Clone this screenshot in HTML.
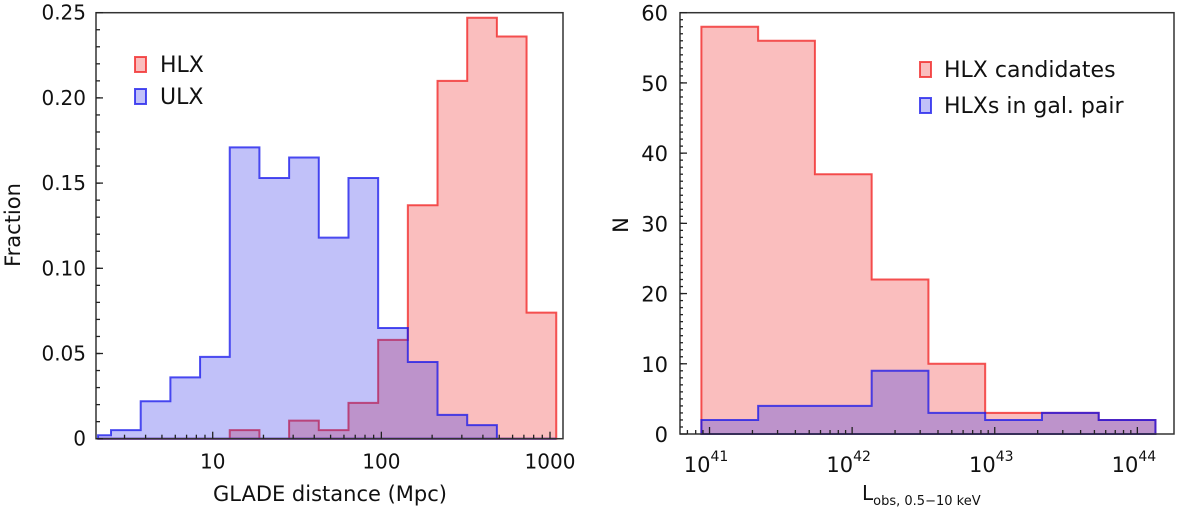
<!DOCTYPE html>
<html><head><meta charset="utf-8"><style>
body{margin:0;background:#fff;}
svg text{font-family:"DejaVu Sans","Liberation Sans",sans-serif;fill:#111;}
</style></head><body>
<svg id="fig" width="1200" height="512" viewBox="0 0 1200 512" xmlns="http://www.w3.org/2000/svg"></svg>
<script>
// Left panel data (log10 distance bin edges, Mpc)
const distEdges = [0.32,0.397,0.573,0.749,0.925,1.101,1.277,1.453,1.629,1.805,1.981,2.157,2.333,2.509,2.685,2.861,3.037];
const ulxFrac = [0.002,0.005,0.022,0.036,0.048,0.171,0.153,0.165,0.118,0.153,0.065,0.045,0.014,0.008,0,0];
const hlxFrac = [0,0,0,0,0,0.005,0,0.0106,0.005,0.021,0.058,0.137,0.210,0.247,0.236,0.074];
const leftYTicks = [0,0.05,0.10,0.15,0.20,0.25];
const leftYTickLabels = ["0","0.05","0.10","0.15","0.20","0.25"];
const leftXTicks = [10,100,1000];
const leftXTickLabels = ["10","100","1000"];
// Right panel data (log10 luminosity bin edges)
const lumEdges = [40.943,41.341,41.739,42.137,42.535,42.933,43.331,43.729,44.127];
const hlxCounts = [58,56,37,22,10,3,3,2];
const pairCounts = [2,4,4,9,3,2,3,2];
const rightYTicks = [0,10,20,30,40,50,60];
const rightXTicks = [41,42,43,44];

const svg = document.getElementById('fig');
const NS = 'http://www.w3.org/2000/svg';
function mk(tag, attrs, parent){const e=document.createElementNS(NS,tag);for(const k in attrs)e.setAttribute(k,attrs[k]);(parent||svg).appendChild(e);return e;}

const L = {x0:96,x1:563,y0:438.7,y1:12.7,lmin:0.308,lmax:3.077,vmax:0.25};
const lx = v => L.x0 + (v - L.lmin)/(L.lmax - L.lmin)*(L.x1-L.x0);
const ly = v => L.y0 - v/L.vmax*(L.y0-L.y1);
const R = {x0:680,x1:1174,y0:434,y1:12.7,lmin:40.793,lmax:44.257,vmax:60};
const rx = v => R.x0 + (v - R.lmin)/(R.lmax - R.lmin)*(R.x1-R.x0);
const ry = v => R.y0 - v/R.vmax*(R.y0-R.y1);

function histPath(edges, vals, xf, yf){
  let d = 'M'+xf(edges[0])+','+yf(0);
  for(let i=0;i<vals.length;i++){
    d += ' L'+xf(edges[i])+','+yf(vals[i])+' L'+xf(edges[i+1])+','+yf(vals[i]);
  }
  d += ' L'+xf(edges[vals.length])+','+yf(0)+' Z';
  return d;
}
function drawHist(edges, vals, xf, yf, fill, stroke, name){
  const p = mk('path',{d:histPath(edges,vals,xf,yf),fill:fill,stroke:stroke,'stroke-width':2,'stroke-linejoin':'miter'});
  
  
}
const RED_F='rgba(240,40,40,0.3)', RED_S='rgba(240,30,30,0.75)';
const BLUE_F='rgba(40,40,235,0.29)', BLUE_S='rgba(20,20,235,0.75)';

drawHist(distEdges, hlxFrac, lx, ly, RED_F, RED_S, 'hlx-histogram');
drawHist(distEdges, ulxFrac, lx, ly, BLUE_F, BLUE_S, 'ulx-histogram');
drawHist(lumEdges, hlxCounts, rx, ry, RED_F, RED_S, 'hlx-candidates-histogram');
drawHist(lumEdges, pairCounts, rx, ry, BLUE_F, BLUE_S, 'hlx-pair-histogram');

function frame(A,name){
  const r = mk('rect',{x:A.x0,y:A.y1,width:A.x1-A.x0,height:A.y0-A.y1,fill:'none',stroke:'#333','stroke-width':1.5});
  
  
}
frame(L,'left-axes-frame');
frame(R,'right-axes-frame');

function tick(x1,y1,x2,y2){mk('line',{x1:x1,y1:y1,x2:x2,y2:y2,stroke:'#222','stroke-width':1.3});}
function label(x,y,txt,anchor,size,name){
  const t = mk('text',{x:x,y:y,'text-anchor':anchor,'font-size':size});
  t.textContent = txt;
  
  
  return t;
}

leftYTicks.forEach((v,i)=>{
  const y=ly(v); tick(L.x0,y,L.x0+7,y);
  label(L.x0-10,y+7,leftYTickLabels[i],'end',20,'left-y-tick-label');
});
for(let v=0.01;v<0.25;v+=0.01){const y=ly(v);tick(L.x0,y,L.x0+4,y);}
leftXTicks.forEach((v,i)=>{
  const x=lx(Math.log10(v)); tick(x,L.y0,x,L.y0-7);
  label(x,L.y0+30,leftXTickLabels[i],'middle',20,'left-x-tick-label');
});
for(let d=0;d<4;d++)for(let m=2;m<10;m++){const lv=d+Math.log10(m);if(lv>L.lmin&&lv<L.lmax){const x=lx(lv);tick(x,L.y0,x,L.y0-4);}}
label(330,501,'GLADE distance (Mpc)','middle',21,'left-x-axis-title');
const lyt = label(0,0,'Fraction','middle',21,'left-y-axis-title');
lyt.setAttribute('transform','translate(20,225) rotate(-90)');

rightYTicks.forEach(v=>{
  const y=ry(v); tick(R.x0,y,R.x0+7,y);
  label(R.x0-12,y+8,String(v),'end',21,'right-y-tick-label');
});
for(let v=1;v<60;v++){const y=ry(v);tick(R.x0,y,R.x0+3,y);}
rightXTicks.forEach(v=>{
  const x=rx(v); tick(x,R.y0,x,R.y0-7);
  const t = mk('text',{x:x+1,y:R.y0+38,'text-anchor':'end','font-size':21});
  
  
  t.textContent='10';
  const s = mk('text',{x:x+1,y:R.y0+27,'text-anchor':'start','font-size':14});
  
  
  s.textContent=String(v);
});
for(let d=40;d<45;d++)for(let m=2;m<10;m++){const lv=d+Math.log10(m);if(lv>R.lmin&&lv<R.lmax){const x=rx(lv);tick(x,R.y0,x,R.y0-4);}}
const rxt = mk('text',{x:862,y:500,'font-size':20});


rxt.innerHTML = 'L<tspan font-size="13" dy="5">obs, 0.5−10 keV</tspan>';
const ryt = label(0,0,'N','middle',21,'right-y-axis-title');
ryt.setAttribute('transform','translate(628,225) rotate(-90)');

function legend(x,y,fill,stroke,txt,name,tx){
  const g = mk('g',{});
  
  
  mk('rect',{x:x,y:y,width:11,height:15,fill:fill,stroke:stroke,'stroke-width':2},g);
  const t = mk('text',{x:tx,y:y+15,'font-size':22},g);
  t.textContent = txt;
}
legend(135,57,RED_F,RED_S,'HLX','legend-hlx',160);
legend(135,89,BLUE_F,BLUE_S,'ULX','legend-ulx',160);
legend(920,62,RED_F,RED_S,'HLX candidates','legend-hlx-candidates',944);
legend(920,98,BLUE_F,BLUE_S,'HLXs in gal. pair','legend-hlx-pair',944);
</script>
</body></html>
